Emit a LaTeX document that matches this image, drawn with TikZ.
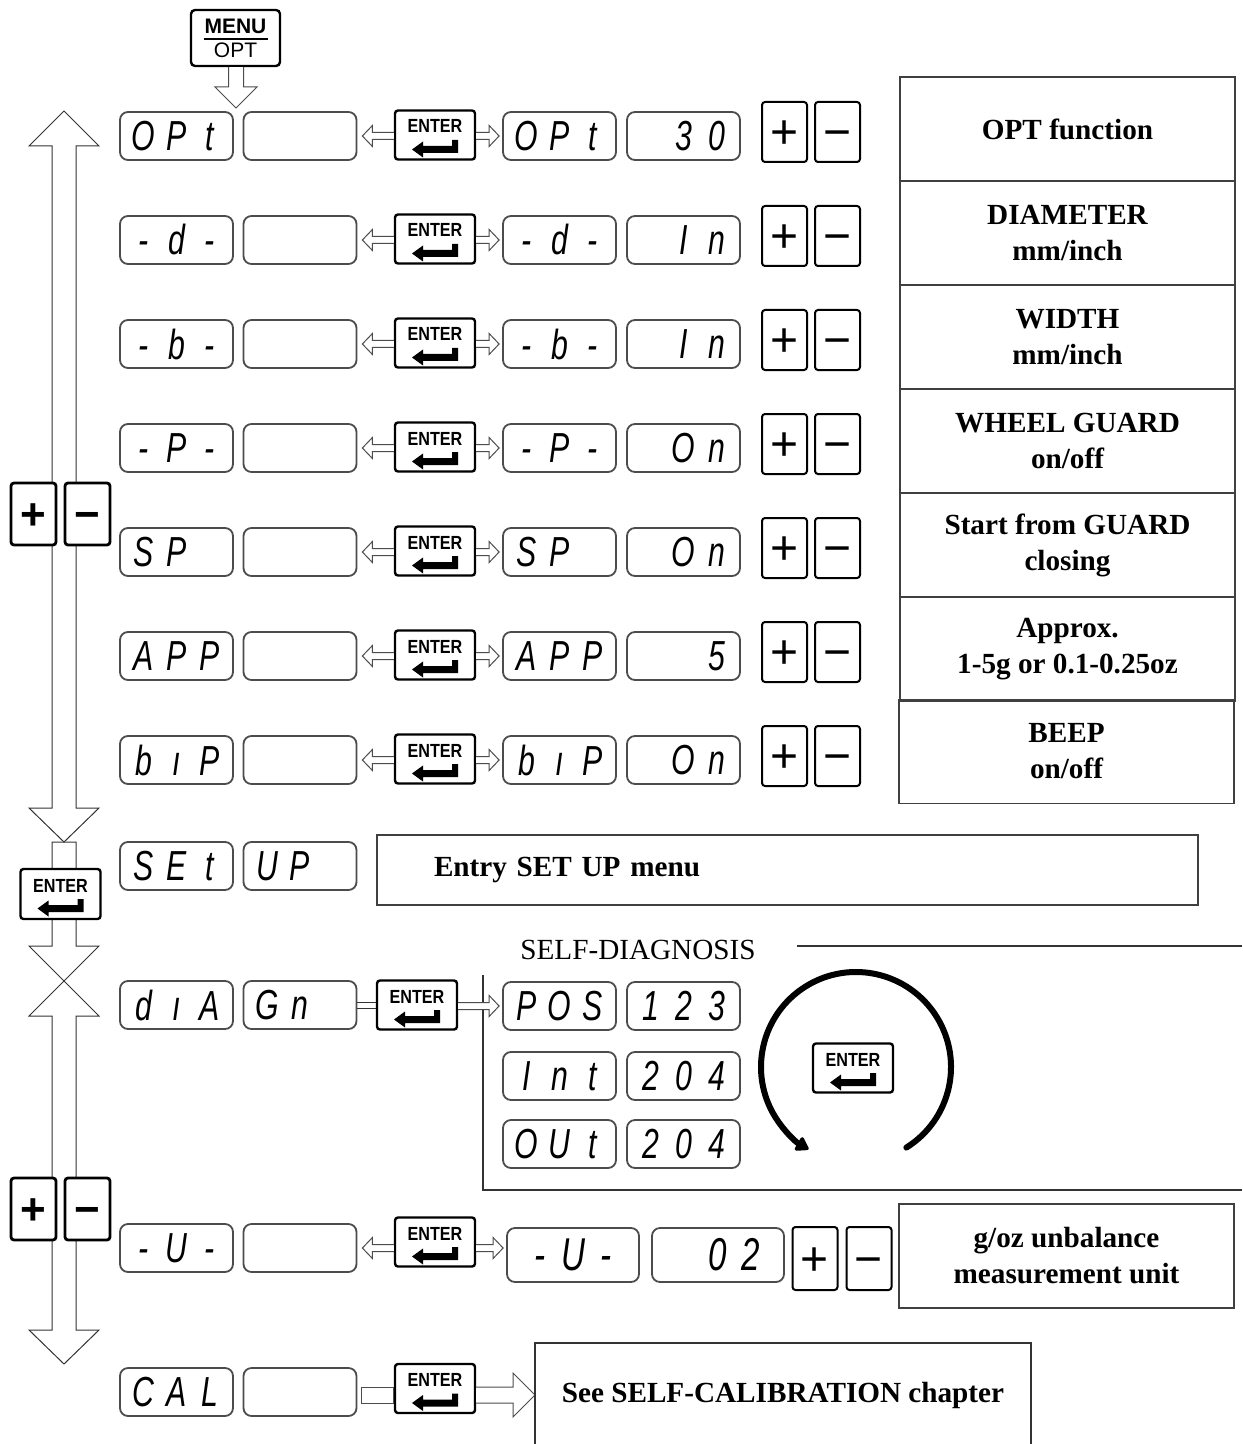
\documentclass[tikz,border=0pt]{standalone}
\usepackage{fontspec}
\setmainfont{Liberation Serif}
\newfontfamily\lcdfont{Liberation Sans}[FakeStretch=0.72]
\newfontfamily\btnfont{Liberation Sans}
\newfontfamily\keyfont{Liberation Sans}[FakeStretch=0.85]
\usetikzlibrary{positioning, arrows.meta, calc}

% three character cells of a display
\newcommand\lcdtext[3]{\makebox[16.5pt]{#1}\makebox[16.5pt]{#2}\makebox[16.5pt]{#3}}
% outlined arrows between keys and displays
\newcommand\hollowr[5]{\draw[hollow] let \p1=#1, \p2=#2 in
  (\x1,\y2+#3) -- (\x2-#5,\y2+#3) -- (\x2-#5,\y2+#4) -- (\x2,\y2)
  -- (\x2-#5,\y2-#4) -- (\x2-#5,\y2-#3) -- (\x1,\y2-#3);}
\newcommand\hollowl[5]{\draw[hollow] let \p1=#1, \p2=#2 in
  (\x1,\y2+#3) -- (\x2+#5,\y2+#3) -- (\x2+#5,\y2+#4) -- (\x2,\y2)
  -- (\x2+#5,\y2-#4) -- (\x2+#5,\y2-#3) -- (\x1,\y2-#3);}

\tikzset{
  lcd/.style={draw=black!70, line width=0.9pt, rounded corners=4pt,
    minimum width=56.5pt, minimum height=24pt, inner sep=0pt,
    font=\lcdfont\itshape\fontsize{21}{21}\selectfont},
  lcdbig/.style={lcd, minimum width=66pt, minimum height=27pt,
    font=\lcdfont\itshape\fontsize{23}{23}\selectfont},
  enterkey/.style={draw, fill=white, line width=1.2pt, rounded corners=1.5pt,
    minimum width=40pt, minimum height=24.5pt, inner sep=0pt,
    text height=7pt, text depth=9pt,
    font=\keyfont\bfseries\fontsize{9.5}{9.5}\selectfont,
    path picture={\fill[black, sharp corners]
      ([shift={(-11.5pt,-7.25pt)}]path picture bounding box.center)
      -- ++(5.5pt,4pt) -- ++(0pt,-2.25pt) -- ++(14.5pt,0pt) -- ++(0pt,3pt)
      -- ++(3pt,0pt) -- ++(0pt,-6.5pt) -- ++(-17.5pt,0pt) -- ++(0pt,-2.25pt)
      -- cycle;}},
  menukey/.style={draw, fill=white, line width=1.2pt, rounded corners=2pt,
    minimum width=44.5pt, minimum height=28pt, inner sep=0pt, align=center,
    font=\btnfont\fontsize{10.5}{12}\selectfont,
    path picture={\draw[black, sharp corners, line width=0.6pt]
      ([shift={(-16pt,-0.5pt)}]path picture bounding box.center) --
      ([shift={(16pt,-0.5pt)}]path picture bounding box.center);}},
  pmkey/.style={draw, fill=white, line width=1pt, rounded corners=1.5pt,
    minimum width=22.5pt, minimum height=30pt, inner sep=0pt,
    text height=16.5pt, text depth=0pt,
    font=\btnfont\fontsize{24}{24}\selectfont},
  pmbold/.style={pmkey, line width=1.4pt, minimum height=31pt,
    text height=15pt, font=\btnfont\bfseries\fontsize{22}{22}\selectfont},
  desc/.style={draw=black!75, line width=0.7pt, minimum width=167.5pt,
    minimum height=52pt, align=center,
    font=\bfseries\fontsize{14.6}{18}\selectfont},
  hollow/.style={draw=black!70, line width=0.5pt, fill=white},
  frame/.style={draw=black!80, line width=0.6pt}
}

\begin{document}
\begin{tikzpicture}[x=0.5pt, y=-0.5pt]
\useasboundingbox (0,0) rectangle (1242,1444);

% big up/down arrows on the left
\draw[frame, line width=0.5pt] (52,808) -- (29,808) -- (64,842) -- (99,808) -- (76,808)
  -- (76,146) -- (99,146) -- (64,111) -- (29,146) -- (52,146) -- cycle;
\draw[frame, line width=0.5pt] (52,946) -- (52,842) -- (76,842) -- (76,946) -- (99,946)
  -- (29,1016) -- (52,1016) -- (52,1330) -- (29,1330) -- (64,1364) -- (99,1330)
  -- (76,1330) -- (76,1016) -- (99,1016) -- (29,946) -- cycle;
\node[pmbold] (lp1) at (33.5,514) {+};
\node[pmbold] (lm1) at (87.5,514) {−};
\node[enterkey, minimum height=25pt] (entl) at (60.5,894) {ENTER};
\node[pmbold] (lp2) at (33.5,1209) {+};
\node[pmbold] (lm2) at (87.5,1209) {−};

% MENU/OPT key
\node[menukey] (menu) at (235.5,38) {\textbf{MENU}\\OPT};
\coordinate (menutip) at (236,108);
\draw[hollow] let \p1=(menu.south), \p2=(menutip) in
  (\x2-3.75pt,\y1) -- (\x2-3.75pt,\y2+10.5pt) -- (\x2-10.5pt,\y2+10.5pt) -- (\x2,\y2)
  -- (\x2+10.5pt,\y2+10.5pt) -- (\x2+3.75pt,\y2+10.5pt) -- (\x2+3.75pt,\y1);

% option rows
\foreach \ry/\la/\lb/\lc/\va/\vb/\vc [count=\i] in {
    136/O/P/t/{}/3/0,
    240/-/d/-/{}/I/n,
    344/-/b/-/{}/I/n,
    448/-/P/-/{}/O/n,
    552/S/P/{}/{}/O/n,
    656/A/P/P/{}/{}/5,
    760/b/ı/P/{}/O/n}{
  \node[lcd] (dl\i) at (176.5,\ry) {\lcdtext{\la}{\lb}{\lc}};
  \node[lcd] (dv\i) at (300,\ry) {};
  \node[enterkey] (ent\i) at (435,\ry-1) {ENTER};
  \node[lcd] (dr\i) at (559.5,\ry) {\lcdtext{\la}{\lb}{\lc}};
  \node[lcd] (dw\i) at (683.5,\ry) {\lcdtext{\va}{\vb}{\vc}};
  \node[pmkey] (kp\i) at (784.5,\ry-4) {+};
  \node[pmkey] (km\i) at (837.5,\ry-4) {−};
  \hollowl{(ent\i.west)}{([xshift=2.5pt]dv\i.east)}{1.75pt}{5.25pt}{5pt}
  \hollowr{(ent\i.east)}{([xshift=-1.5pt]dr\i.west)}{1.75pt}{5.25pt}{5pt}
}

% descriptions
\node[desc] (t1) at (1067.5,129) {OPT function};
\node[desc] (t2) at (1067.5,233) {DIAMETER\\mm/inch};
\node[desc] (t3) at (1067.5,337) {WIDTH\\mm/inch};
\node[desc] (t4) at (1067.5,441) {WHEEL GUARD\\on/off};
\node[desc] (t5) at (1067.5,545) {Start from GUARD\\closing};
\node[desc] (t6) at (1067.5,649) {Approx.\\1-5g or 0.1-0.25oz};
\node[desc] (t7) at (1066.5,751.5) {BEEP\\on/off};

% set up
\node[lcd] (su1) at (176.5,866) {\lcdtext{S}{E}{t}};
\node[lcd] (su2) at (300,866) {\lcdtext{U}{P}{}};
\node[desc, minimum width=410.5pt, minimum height=35pt, text width=353.5pt,
  inner xsep=28.5pt, align=left] (setbox) at (787.5,870) {Entry SET UP menu};

% self diagnosis
\node[font=\fontsize{14.6}{18}\selectfont] (sdt) at (638,950) {SELF-DIAGNOSIS};
\draw[frame] (797,946) -- (1242,946);
\draw[frame] (483,975) |- (1242,1190);
\node[lcd] (dg1) at (176.5,1005) {\lcdtext{d}{ı}{A}};
\node[lcd] (dg2) at (300,1005) {\lcdtext{G}{n}{}};
\node[enterkey] (entd) at (417,1005) {ENTER};
\node[lcd] (pos1) at (559.5,1006) {\lcdtext{P}{O}{S}};
\node[lcd] (pos2) at (683.5,1006) {\lcdtext{1}{2}{3}};
\node[lcd] (int1) at (559.5,1076) {\lcdtext{I}{n}{t}};
\node[lcd] (int2) at (683.5,1076) {\lcdtext{2}{0}{4}};
\node[lcd] (out1) at (559.5,1144) {\lcdtext{O}{U}{t}};
\node[lcd] (out2) at (683.5,1144) {\lcdtext{2}{0}{4}};
\draw[frame, line width=0.5pt] let \p1=(dg2.east), \p2=(entd.west) in
  (\x1,\y2+1.5pt) -- (\x2,\y2+1.5pt) (\x1,\y2-1.5pt) -- (\x2,\y2-1.5pt);
\hollowr{(entd.east)}{([xshift=-1.5pt]pos1.west)}{1.75pt}{5.25pt}{5pt}
\coordinate (cc) at (856,1067);
\draw[line width=3pt, line cap=round, -{Triangle[length=7pt,width=8.5pt,round]}]
  ($(cc)+(58:95)$) arc[start angle=58, end angle=-240, radius=95];
\node[enterkey] (entc) at (853,1068) {ENTER};

% unit
\node[lcd] (du1) at (176.5,1248) {\lcdtext{-}{U}{-}};
\node[lcd] (du2) at (300,1248) {};
\node[enterkey] (entu) at (435,1242) {ENTER};
\node[lcdbig] (du3) at (573,1255) {\lcdtext{-}{U}{-}};
\node[lcdbig] (du4) at (718,1255) {\lcdtext{}{0}{2}};
\node[pmkey, minimum height=31.5pt] (kpu) at (815,1258.5) {+};
\node[pmkey, minimum height=31.5pt] (kmu) at (869,1258.5) {−};
\node[desc] (tu) at (1066.5,1256) {g/oz unbalance\\measurement unit};
\hollowl{(entu.west)}{([xshift=2.5pt]du2.east)}{1.75pt}{5.25pt}{5pt}
\hollowr{(entu.east)}{([shift={(-1.5pt,3.5pt)}]du3.west)}{1.75pt}{5.25pt}{5pt}

% calibration
\node[lcd] (ca1) at (176.5,1392) {\lcdtext{C}{A}{L}};
\node[lcd] (ca2) at (300,1392) {};
\node[enterkey] (entca) at (435,1388.5) {ENTER};
\coordinate (seetip) at (535,1395);
\draw[hollow] let \p1=([xshift=2pt]ca2.east), \p2=(entca.west), \p3=(seetip) in
  (\x1,\y3-4pt) rectangle (\x2,\y3+4pt);
\hollowr{(entca.east)}{(seetip)}{4pt}{11pt}{11pt}
\draw[frame] (535,1444) |- (1031,1343) -- (1031,1444);
\node[font=\bfseries\fontsize{14.6}{18}\selectfont] (see) at (783,1395)
  {See SELF-CALIBRATION chapter};
\end{tikzpicture}
\end{document}
